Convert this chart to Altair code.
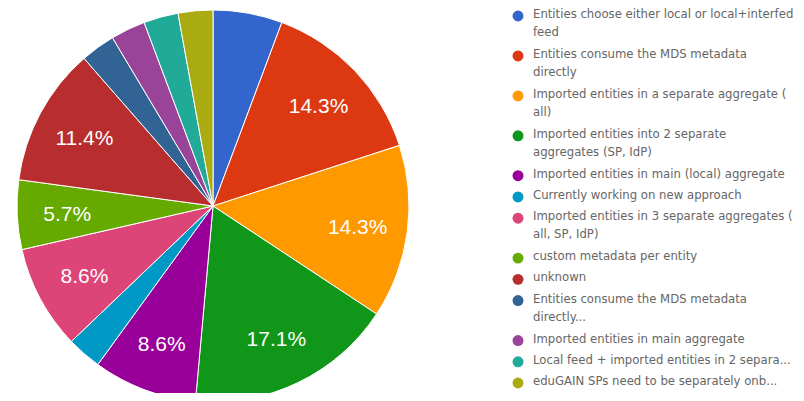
import altair as alt
import pandas as pd

labels = [
    "Entities choose either local or local+interfed\nfeed",
    "Entities consume the MDS metadata\ndirectly",
    "Imported entities in a separate aggregate (\nall)",
    "Imported entities into 2 separate\naggregates (SP, IdP)",
    "Imported entities in main (local) aggregate",
    "Currently working on new approach",
    "Imported entities in 3 separate aggregates (\nall, SP, IdP)",
    "custom metadata per entity",
    "unknown",
    "Entities consume the MDS metadata\ndirectly...",
    "Imported entities in main aggregate",
    "Local feed + imported entities in 2 separa...",
    "eduGAIN SPs need to be separately onb...",
]
counts = [2, 5, 5, 6, 3, 1, 3, 2, 4, 1, 1, 1, 1]
slice_labels = ["", "14.3%", "14.3%", "17.1%", "8.6%", "", "8.6%", "5.7%",
                "11.4%", "", "", "", ""]
colors = ["#3366cc", "#dc3912", "#ff9900", "#109618", "#990099", "#0099c6",
          "#dd4477", "#66aa00", "#b82e2e", "#316395", "#994499", "#22aa99",
          "#aaaa11"]

# legend slot positions derived from the number of text lines per label
slots = []
extra = 0
for i, lab in enumerate(labels):
    slots.append(i + 0.88 * extra)
    extra += lab.count("\n")

df = pd.DataFrame({
    "label": labels,
    "count": counts,
    "pct_text": slice_labels,
    "idx": list(range(len(labels))),
    "slot": slots,
})

color_scale = alt.Scale(domain=labels, range=colors)

base = alt.Chart(df).encode(
    theta=alt.Theta("count:Q", stack=True),
    order=alt.Order("idx:Q"),
)
arcs = base.mark_arc(outerRadius=196, stroke="white", strokeWidth=1, clip=True,
                     y=alt.expr("198"), x=alt.expr("205")).encode(
    color=alt.Color("label:N", scale=color_scale, legend=None),
)
texts = base.mark_text(radius=146, font="Liberation Sans", fontSize=21,
                       color="white", align="center", baseline="middle", dy=2,
                       y=alt.expr("198"), x=alt.expr("205")).encode(
    text="pct_text:N",
)
pie = alt.layer(arcs, texts).properties(width=410, height=385)

ymax = max(slots)
yscale = alt.Scale(domain=[0, ymax], range=[8, 375])
leg_base = alt.Chart(df)
dots = leg_base.mark_point(filled=True, opacity=1, size=120, shape="circle").encode(
    x=alt.value(10),
    y=alt.Y("slot:Q", scale=yscale, axis=None),
    color=alt.Color("label:N", scale=color_scale, legend=None),
)
leg_text = leg_base.mark_text(align="left", baseline="top", dy=-7,
                              font="DejaVu Sans", fontSize=11.7, lineHeight=18,
                              lineBreak="\n", color="#666666").encode(
    x=alt.value(25),
    y=alt.Y("slot:Q", scale=yscale, axis=None),
    text="label:N",
)
legend = alt.layer(dots, leg_text).properties(width=288, height=385)

chart = alt.hconcat(pie, legend, spacing=90).properties(
    padding=0,
    background="white",
).configure_view(stroke=None)

chart.save("out.html", embed_options={"renderer": "svg", "actions": False})
